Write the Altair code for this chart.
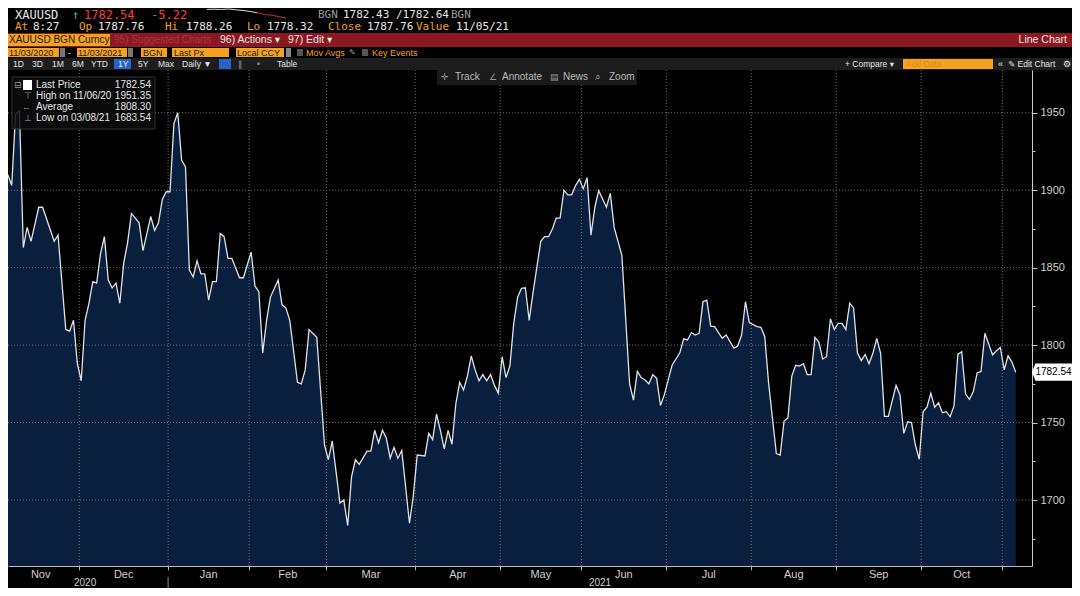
import altair as alt
import pandas as pd

# ---------------- data ----------------
# trading-session index (weekdays counted from 03 Nov 2020) and XAUUSD price
session = [1, 2, 3, 4, 5, 6, 7, 9, 10, 13, 14, 16, 17, 18, 19, 20, 21, 22, 23, 24,
           25, 26, 27, 28, 29, 30, 31, 32, 33, 35, 36, 38, 39, 40, 41, 42, 43, 44, 45, 46,
           47, 48, 49, 50, 51, 52, 53, 54, 55, 56, 57, 58, 59, 61, 62, 64, 65, 66, 67, 68,
           69, 71, 72, 73, 74, 76, 77, 78, 79, 81, 83, 84, 85, 87, 88, 89, 90, 91, 92, 94,
           95, 96, 97, 98, 99, 100, 101, 102, 103, 105, 106, 107, 109, 110, 111, 112, 113, 114, 115, 116,
           117, 118, 119, 120, 121, 122, 123, 124, 125, 126, 127, 128, 129, 130, 131, 132, 133, 134, 135, 136,
           137, 139, 140, 141, 142, 143, 144, 145, 146, 147, 148, 149, 150, 151, 152, 153, 154, 156, 157, 158,
           160, 162, 163, 164, 165, 166, 167, 168, 169, 170, 171, 173, 175, 176, 177, 178, 179, 180, 181, 182,
           183, 184, 186, 187, 189, 190, 191, 192, 193, 195, 196, 197, 198, 200, 201, 202, 203, 204, 205, 206,
           207, 208, 209, 210, 211, 212, 213, 214, 215, 216, 217, 218, 219, 220, 221, 222, 223, 224, 225, 226,
           227, 228, 229, 231, 232, 233, 234, 235, 236, 237, 238, 239, 240, 241, 242, 243, 244, 245, 246, 247,
           248, 249, 250, 251, 252, 253, 254, 256, 257, 258, 259, 260, 261, 262]
price = [1910, 1903, 1949, 1951.35, 1863, 1876, 1867, 1889, 1889, 1867, 1871, 1810, 1809, 1816, 1788, 1777, 1816, 1827, 1841, 1840,
         1859, 1870, 1842, 1837, 1840, 1827, 1853, 1866, 1885, 1879, 1861, 1883, 1874, 1879, 1894, 1899, 1899, 1943, 1950, 1919.5,
         1915, 1848.5, 1844, 1854.5, 1846, 1846, 1829, 1841, 1841, 1872, 1870, 1856, 1856, 1843.5, 1843.5, 1860, 1838, 1834.5, 1795, 1816,
         1831, 1842, 1826, 1824, 1816, 1776, 1775, 1784, 1810, 1805, 1735.5, 1726, 1738, 1698, 1700, 1683.54, 1715, 1726, 1723, 1731.6,
         1731.6, 1745, 1737, 1745, 1740, 1727, 1734, 1727, 1732, 1685, 1703, 1729, 1728.4, 1743, 1739, 1755.5, 1745, 1733, 1745, 1736,
         1762, 1776, 1771, 1780, 1793, 1784, 1777, 1781, 1777, 1781, 1774, 1769, 1792.5, 1779, 1786.5, 1814, 1831, 1836.6, 1837, 1816,
         1834, 1867, 1870, 1870, 1875, 1882, 1882, 1900, 1897, 1897, 1903, 1907, 1901, 1908, 1871, 1889, 1899.6, 1889, 1898, 1876,
         1858, 1775, 1764.5, 1783, 1779, 1777.5, 1775, 1781, 1778.5, 1761, 1768, 1787, 1795, 1804, 1803.3, 1808, 1806.5, 1807.6, 1828, 1829,
         1812.3, 1812, 1804.4, 1806.5, 1798, 1799.4, 1806.5, 1828, 1814.5, 1812, 1811.5, 1805.4, 1775.3, 1730, 1729, 1751, 1753, 1780, 1787, 1786.5,
         1788, 1781, 1781, 1805, 1802, 1791, 1792.5, 1817, 1810, 1814, 1814, 1810, 1827, 1824, 1795, 1790, 1794, 1788, 1794.7, 1804.4,
         1794.7, 1754, 1754, 1774, 1768, 1743, 1750.5, 1750, 1735.5, 1726.3, 1757, 1760, 1769, 1760, 1762.8, 1756.4, 1757, 1753.8, 1760.7, 1794,
         1795.7, 1768.4, 1765, 1770, 1782, 1783, 1807.6, 1793.6, 1796.4, 1798.5, 1784, 1793, 1789, 1782.54]

month_names = ["Nov", "Dec", "Jan", "Feb", "Mar", "Apr", "May", "Jun", "Jul", "Aug", "Sep", "Oct", "Nov"]
month_start = [0, 20, 43, 64, 84, 107, 129, 150, 172, 194, 216, 238, 259]
year_names = ["2020", "2021"]
year_start = [0, 43]
y_major = [1700, 1750, 1800, 1850, 1900, 1950]
y_minor = [1675, 1725, 1775, 1825, 1875, 1925]
last_price = 1782.54
spark_price = [1787.9, 1788.1, 1787.9, 1788.26, 1787.6, 1787.0, 1786.2, 1785.0, 1783.6, 1783.0, 1781.8, 1780.6]

# ---------------- layout ----------------
W, H = 1024, 496
X_DOM = [1.04, 266.2]
Y_DOM = [1657.4, 1977.6]
OX, OY = 8, 70  # page position of the plot origin

MONO = "DejaVu Sans Mono"
NARROW = "Liberation Sans Narrow, Liberation Sans, DejaVu Sans, sans-serif"
NAVY = "#0a1f3e"
ORANGE = "#f5a31e"
WHITE = "#e6e6e6"
GRAY = "#9a9a9a"
RED = "#ff3b3b"

df = pd.DataFrame({"session": session, "price": price})
bounds = [s - 0.5 for s in month_start]
grid_x = pd.DataFrame({"b": bounds[1:]})
mids = pd.DataFrame({
    "month": month_names[:-1],
    "mid": [(bounds[i] + bounds[i + 1]) / 2 for i in range(len(month_names) - 1)],
})
ybounds = [s - 0.5 for s in year_start] + [X_DOM[1]]
years = pd.DataFrame({
    "year": year_names,
    "mid": [(ybounds[i] + ybounds[i + 1]) / 2 for i in range(len(year_names))],
})
grid_y = pd.DataFrame({"v": y_major})

xs = alt.Scale(domain=X_DOM, nice=False, zero=False)
ys = alt.Scale(domain=Y_DOM, nice=False, zero=False)

x_axis = alt.Axis(values=bounds[1:], labels=False, tickSize=4, tickColor="#aaaaaa",
                  domainColor="#bbbbbb", grid=False, title=None, orient="bottom")
y_axis = alt.Axis(orient="right", values=sorted(y_major + y_minor), format="d",
                  labelExpr="datum.value % 50 == 0 ? datum.label : ''",
                  tickSize={"condition": {"test": "datum.value % 50 == 0", "value": 5}, "value": 3},
                  tickColor="#cccccc", domainColor="#cccccc", labelColor="#cfcfcf",
                  labelFont=NARROW, labelFontSize=11, labelPadding=3, grid=False, title=None)

area = alt.Chart(df).mark_area(color=NAVY, clip=True).encode(
    x=alt.X("session:Q", scale=xs, axis=x_axis),
    y=alt.Y("price:Q", scale=ys, axis=y_axis),
)
line = alt.Chart(df).mark_line(color="#dde3ea", strokeWidth=1.3, clip=True).encode(
    x=alt.X("session:Q", scale=xs),
    y=alt.Y("price:Q", scale=ys),
)
hgrid = alt.Chart(grid_y).mark_rule(color="#6e6e6e", strokeDash=[1, 2], strokeWidth=1).encode(
    y=alt.Y("v:Q", scale=ys))
vgrid = alt.Chart(grid_x).mark_rule(color="#6e6e6e", strokeDash=[1, 2], strokeWidth=1).encode(
    x=alt.X("b:Q", scale=xs))

month_txt = alt.Chart(mids).mark_text(font=NARROW, fontSize=11, color="#cfcfcf", baseline="middle").encode(
    x=alt.X("mid:Q", scale=xs), y=alt.value(H + 9), text="month:N")
year_txt = alt.Chart(years).mark_text(font=NARROW, fontSize=10, color="#cfcfcf", baseline="middle").encode(
    x=alt.X("mid:Q", scale=xs), y=alt.value(H + 16.5), text="year:N")
year_sep = alt.Chart(pd.DataFrame({"b": [bounds[2]]})).mark_rule(color="#888888").encode(
    x=alt.X("b:Q", scale=xs), y=alt.value(H + 11), y2=alt.value(H + 22))

# ---------------- terminal chrome (page coordinates) ----------------
rects = [
    (0, 1073, 33, 47, "#8c1822"),
    (7, 110, 34, 46, ORANGE),
    (8, 59, 48, 57, ORANGE), (60, 65, 48, 57, "#777777"),
    (77, 127, 48, 57, ORANGE), (128, 133, 48, 57, "#777777"),
    (141, 167, 48, 57, ORANGE), (172, 229, 48, 57, ORANGE), (236, 284, 48, 57, ORANGE),
    (286, 291, 48, 57, "#888888"), (297, 303, 49, 56, "#555555"), (362, 368, 49, 56, "#555555"),
    (0, 1075, 58, 70, "#1d1d1d"),
    (114, 131, 59, 69, "#2764c8"), (219, 231, 59, 69, "#2764c8"),
    (903, 993, 59, 69, ORANGE),
    (437, 637, 70, 85, "#1b1b1b"),
]
df_rect = pd.DataFrame([{"x": a - OX, "x2": b - OX, "y": c - OY, "y2": d - OY, "fill": f}
                        for a, b, c, d, f in rects])
chrome_rect = alt.Chart(df_rect).mark_rect().encode(
    x=alt.X("x:Q", scale=None), x2="x2:Q", y=alt.Y("y:Q", scale=None), y2="y2:Q",
    color=alt.Color("fill:N", scale=None, legend=None))

legend_box = alt.Chart(pd.DataFrame({"k": [0]})).mark_rect(
    fill="#0c0c0c", opacity=0.85, stroke="#3a3a3a", strokeWidth=1).encode(
    x=alt.value(12 - OX), x2=alt.value(155 - OX), y=alt.value(77 - OY), y2=alt.value(129 - OY))
legend_sq = alt.Chart(pd.DataFrame({"k": [0]})).mark_rect(fill="#ffffff").encode(
    x=alt.value(23 - OX), x2=alt.value(32 - OX), y=alt.value(80 - OY), y2=alt.value(90 - OY))

mono_txt = [
    ("XAUUSD", 15, 14.5, WHITE, 12), ("\u2191", 72, 14.5, "#33cc44", 12), ("1782.54", 84, 14.5, RED, 12),
    ("-5.22", 151, 14.5, RED, 12), ("BGN", 318, 14.5, GRAY, 11), ("1782.43 /1782.64", 343, 14.5, WHITE, 11),
    ("BGN", 451, 14.5, GRAY, 11),
    ("At", 15, 27, ORANGE, 11), ("8:27", 33, 27, WHITE, 11), ("Op", 79, 27, ORANGE, 11),
    ("1787.76", 98, 27, WHITE, 11), ("Hi", 165, 27, ORANGE, 11), ("1788.26", 186, 27, WHITE, 11),
    ("Lo", 247, 27, ORANGE, 11), ("1778.32", 267, 27, WHITE, 11), ("Close", 328, 27, ORANGE, 11),
    ("1787.76", 367, 27, WHITE, 11), ("Value", 416, 27, ORANGE, 11), ("11/05/21", 456, 27, WHITE, 11),
]
narrow_txt = [
    ("XAUUSD BGN Curncy", 9, 40, "#1a1a1a", 10), ("95) Suggested Charts", 114, 40, "#b2343e", 10),
    ("96) Actions \u25be", 220, 40, WHITE, 10.5), ("97) Edit \u25be", 288, 40, WHITE, 10.5),
    ("11/03/2020", 9, 52.5, "#222222", 9), ("-", 68, 52.5, WHITE, 9), ("11/03/2021", 78, 52.5, "#222222", 9),
    ("BGN", 143, 52.5, "#222222", 9), ("Last Px", 174, 52.5, "#222222", 9), ("Local CCY", 237, 52.5, "#222222", 9),
    ("Mov Avgs", 306, 52.5, ORANGE, 9), ("\u270e", 349, 52.5, GRAY, 8), ("Key Events", 372, 52.5, ORANGE, 9),
    ("1D", 13, 64, WHITE, 8.5), ("3D", 32, 64, WHITE, 8.5), ("1M", 52, 64, WHITE, 8.5), ("6M", 72, 64, WHITE, 8.5),
    ("YTD", 91, 64, WHITE, 8.5), ("1Y", 118, 64, WHITE, 8.5), ("5Y", 138, 64, WHITE, 8.5), ("Max", 158, 64, WHITE, 8.5),
    ("Daily \u25bc", 182, 64, WHITE, 8.5), ("\u2225", 238, 64, GRAY, 8.5), ("\u2022", 257, 64, GRAY, 8.5),
    ("Table", 277, 64, WHITE, 8.5),
    ("+ Compare \u25be", 845, 64, WHITE, 8.5), ("Add Data", 906, 64, "#d98a10", 8.5), ("\u00ab", 998, 64, WHITE, 9),
    ("\u270e Edit Chart", 1008, 64, WHITE, 8.5), ("\u2699", 1063, 64, WHITE, 9),
    ("\u271b", 441, 77, GRAY, 9), ("Track", 455, 77, "#bbbbbb", 10), ("\u2220", 489, 77, GRAY, 9),
    ("Annotate", 502, 77, "#bbbbbb", 10), ("\u25a4", 550, 77, GRAY, 9), ("News", 563, 77, "#bbbbbb", 10),
    ("\u2315", 595, 77, GRAY, 10), ("Zoom", 609, 77, "#bbbbbb", 10),
    ("\u229f", 14, 85, GRAY, 9), ("Last Price", 36, 85, WHITE, 10),
    ("\u22a4", 24, 96, GRAY, 9), ("High on 11/06/20", 36, 96, WHITE, 10),
    ("\u2190", 22, 107, GRAY, 9), ("Average", 36, 107, WHITE, 10),
    ("\u22a5", 24, 118, GRAY, 9), ("Low on 03/08/21", 36, 118, WHITE, 10),
]
right_txt = [
    ("Line Chart", 1067, 40, WHITE, 10.5),
    ("1782.54", 151, 85, WHITE, 10), ("1951.35", 151, 96, WHITE, 10),
    ("1808.30", 151, 107, WHITE, 10), ("1683.54", 151, 118, WHITE, 10),
]


def text_layer(items, font, align):
    d = pd.DataFrame([{"t": t, "x": x - OX, "y": y - OY, "c": c, "s": s} for t, x, y, c, s in items])
    return alt.Chart(d).mark_text(font=font, align=align, baseline="middle").encode(
        x=alt.X("x:Q", scale=None), y=alt.Y("y:Q", scale=None),
        text="t:N", color=alt.Color("c:N", scale=None, legend=None),
        size=alt.Size("s:Q", scale=None, legend=None))


# sparkline of the day's trading
sp_lo, sp_hi = min(spark_price), max(spark_price)
sp = pd.DataFrame({
    "i": range(len(spark_price)),
    "x": [207 - OX + i * 79 / (len(spark_price) - 1) for i in range(len(spark_price))],
    "y": [9 - OY + (sp_hi - p) / (sp_hi - sp_lo) * 9 for p in spark_price],
})
spark_w = alt.Chart(sp[sp.i <= 7]).mark_line(color="#dddddd", strokeWidth=1).encode(
    x=alt.X("x:Q", scale=None), y=alt.Y("y:Q", scale=None), order="i:Q")
spark_r = alt.Chart(sp[sp.i >= 7]).mark_line(color="#d42a2a", strokeWidth=1).encode(
    x=alt.X("x:Q", scale=None), y=alt.Y("y:Q", scale=None), order="i:Q")

# last-price tag on the right axis
tag_df = pd.DataFrame({"p": [last_price], "t": [f"{last_price:.2f}"]})
tag_shape = "M -1 0 L -0.84 -0.39 L 1 -0.39 L 1 0.39 L -0.84 0.39 Z"
tag_box = alt.Chart(tag_df).mark_point(shape=tag_shape, filled=True, fill="#ffffff", opacity=1,
                                       size=1521, stroke="#ffffff").encode(
    x=alt.value(1052.5 - OX), y=alt.Y("p:Q", scale=ys))
tag_txt = alt.Chart(tag_df).mark_text(font=NARROW, fontSize=10, color="#000000", align="center",
                                      baseline="middle").encode(
    x=alt.value(1053.5 - OX), y=alt.Y("p:Q", scale=ys), text="t:N")

chart = alt.layer(
    area, hgrid, vgrid, line,
    month_txt, year_txt, year_sep,
    chrome_rect, legend_box, legend_sq,
    text_layer(mono_txt, MONO, "left"),
    text_layer(narrow_txt, NARROW, "left"),
    text_layer(right_txt, NARROW, "right"),
    spark_w, spark_r, tag_box, tag_txt,
).properties(
    width=W, height=H,
    autosize=alt.AutoSizeParams(type="none"),
    padding={"left": 0, "top": 62, "right": 40, "bottom": 22},
    background="#000000",
).configure_view(stroke=None)

chart.save("out.html", embed_options={"renderer": "svg", "actions": False})
